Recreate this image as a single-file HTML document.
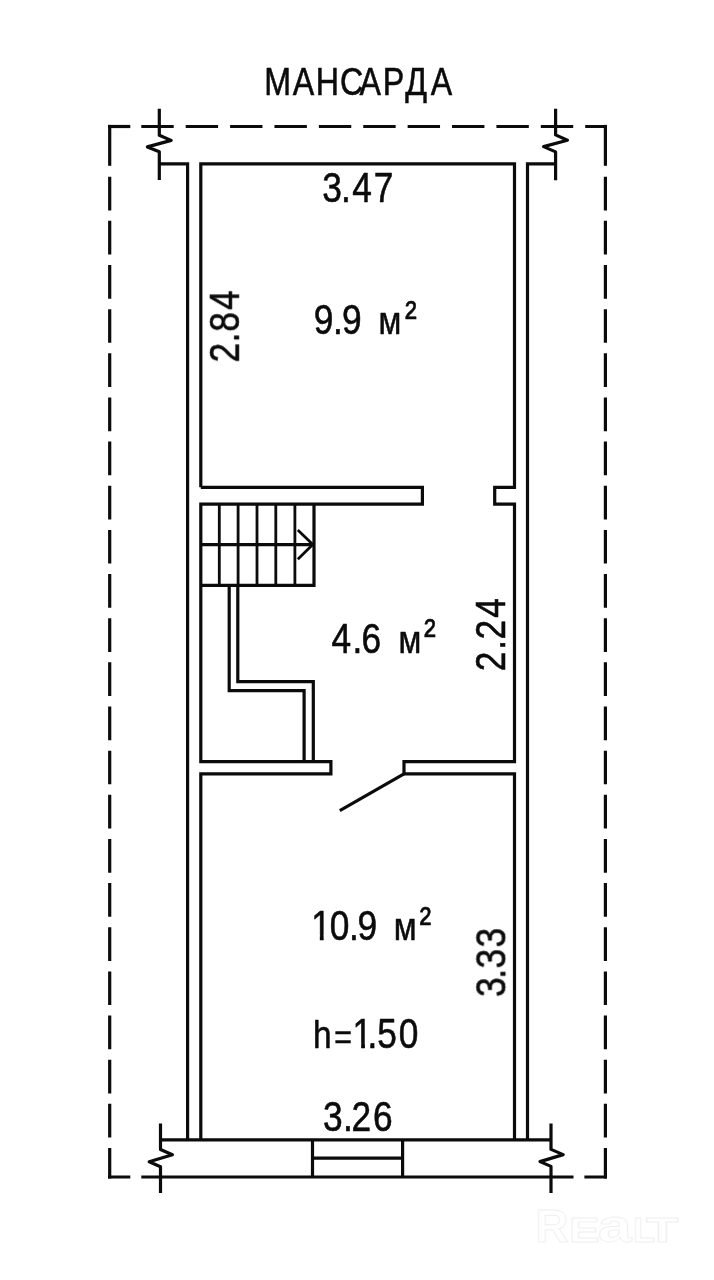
<!DOCTYPE html>
<html lang="ru">
<head>
<meta charset="utf-8">
<title>Мансарда</title>
<style>
html,body{margin:0;padding:0;background:#fff;}
body{width:714px;height:1280px;overflow:hidden;}
svg{display:block;}
text{font-family:"Liberation Sans",sans-serif;fill:#0b0b0b;stroke:#0b0b0b;stroke-width:0.6px;stroke-linejoin:round;}
.wm text{font-weight:bold;fill:#ffffff;stroke:#f0f0f0;stroke-width:0.9px;}
.ln path{fill:none;stroke:#0b0b0b;stroke-width:3.2;stroke-linecap:butt;stroke-linejoin:miter;}
</style>
</head>
<body>
<svg width="714" height="1280" viewBox="0 0 714 1280">
<defs><clipPath id="c1" clipPathUnits="userSpaceOnUse"><path clip-rule="evenodd" d="M0,0 H714 V1280 H0 Z M312.49,935.37 H319.83 V941.70 H312.49 Z M323.64,935.37 H330.60 V941.70 H323.64 Z"/></clipPath><clipPath id="c2" clipPathUnits="userSpaceOnUse"><path clip-rule="evenodd" d="M0,0 H714 V1280 H0 Z M353.79,1042.87 H361.13 V1049.20 H353.79 Z M364.94,1042.87 H370.32 V1049.20 H364.94 Z"/></clipPath></defs>
<rect width="714" height="1280" fill="#ffffff"/>
<g class="ln">
<path d="M108,126.5 H130.3"/>
<path d="M141.3,126.5 H607" stroke-dasharray="32.4 11.99"/>
<path d="M108,1177 H130.3 M141.3,1177 H573.5 M584.4,1177 H607"/>
<path d="M109.7,124.9 V165.8"/>
<path d="M109.7,176.7 V1178.6" stroke-dasharray="33.7 10.45"/>
<path d="M605.4,124.9 V165.8"/>
<path d="M605.4,176.7 V1178.6" stroke-dasharray="33.7 10.45"/>
<path d="M159.3,163.8 H187.6 V1139.8"/>
<path d="M555.6,163.8 H527.5 V1139.8"/>
<path d="M200.8,487.3 V163.8 H514.5 V487.3 H494.7 V504.1 H514.5 V761.6 H404 V773.9 H514.5 V1139.8"/>
<path d="M200.8,487.3 H422.4 V504.1 H200.8 V761.6 H330.9 V773.9 H200.8 V1139.8"/>
<path d="M160.5,1139.8 H551"/>
<path d="M312.5,1139.8 V1177 M402.6,1139.8 V1177 M312.5,1158.2 H402.6"/>
<path d="M200.8,544.6 H312.8 M314,504.1 V585.4 H200.8"/>
<path d="M229.2,585.4 V690.7 H304.1 V761.6"/>
<path d="M237.8,585.4 V681.6 H313.3 V761.6"/>
<path d="M404,773.9 L339.8,810.6"/>
<path style="stroke-linejoin:round" d="M159.3,108.7 V135.3 L171.2,140.4 L147.4,146.9 L159.3,151.8 V180"/>
<path style="stroke-linejoin:round" d="M555.6,108.7 V134.9 L567.4,140.3 L543.6,146.6 L555.6,151.9 V180.3"/>
<path style="stroke-linejoin:round" d="M160.5,1123.5 V1149.5 L172.4,1154.8 L149.2,1161.8 L160.5,1166.7 V1193"/>
<path style="stroke-linejoin:round" d="M551,1123.5 V1149.4 L563.2,1154.6 L540,1161.6 L551,1166.4 V1193"/>
<path style="stroke-width:2.8px" d="M219.3,504.1 V585.4 M238.1,504.1 V585.4 M257,504.1 V585.4 M275.8,504.1 V585.4 M294.9,504.1 V585.4"/>
<path style="stroke-width:2.8px" d="M297.8,530 L312.8,544.6 L297.8,559.2"/>
</g>
<g opacity="0.999">
<text transform="scale(0.81,1)" x="326.37 361.53 389.95 419.84 443.75 472.55 500.33 531.65" y="95" font-size="39.7">МАНСАРДА</text>
<text transform="scale(0.842,1)" x="382.61 405.11 418.28 443.93" y="201.7" font-size="41.9">3.47</text>
<text transform="scale(0.842,1)" x="372.74 395.49 406.23 437.05 449.59 480.87" y="334.5" dy="0 0 0 0 0 -3.4" font-size="41.9">9.9 <tspan font-size="39.4">м</tspan>²</text>
<text transform="scale(0.842,1)" x="393.81 418.53 429.46 460.81 473.34 503.56" y="652.8" dy="0 0 0 0 0 -3.4" font-size="41.9">4.6 <tspan font-size="39.4">м</tspan>²</text>
<g clip-path="url(#c1)"><text transform="scale(0.842,1)" x="369.72 391.59 414.61 424.64 456.06 467.64 498.21" y="940.2" dy="0 0 0 0 0 0 -3.4" font-size="41.9">10.9 <tspan font-size="39.4">м</tspan>²</text></g>
<g clip-path="url(#c2)"><text transform="scale(0.842,1)" x="371.80 397.00 418.77 436.58 448.08 473.66" y="1047.7" dy="0 1.4 -1.4 0 0 0" font-size="41.9"><tspan font-size="39.6">h</tspan><tspan font-size="36.0">=</tspan>1.50</text></g>
<text transform="scale(0.842,1)" x="383.68 407.36 417.61 443.00" y="1131.5" font-size="41.9">3.26</text>
<text transform="translate(238.9,360.7) rotate(-90) scale(0.842,1)" x="-2.11 21.61 34.28 60.20" y="0" font-size="41.9">2.84</text>
<text transform="translate(504.9,669.4) rotate(-90) scale(0.842,1)" x="-2.11 23.28 35.42 61.27" y="0" font-size="41.9">2.24</text>
<text transform="translate(505.3,995.7) rotate(-90) scale(0.842,1)" x="-1.60 20.31 32.37 57.31" y="0" font-size="41.9">3.33</text>
</g>
<g class="wm"><text transform="translate(535.44,1241.5) scale(0.998,1)" font-size="45.79">R</text><text transform="translate(568.94,1241.5) scale(1.276,1)" font-size="35.90">E</text><text transform="translate(597.71,1241.5) scale(1.328,1)" font-size="45.90">a</text><text transform="translate(633.09,1241.5) scale(1.004,1)" font-size="35.90">L</text><text transform="translate(645.90,1241.5) scale(1.490,1)" font-size="35.90">T</text></g>
</svg>
</body>
</html>
